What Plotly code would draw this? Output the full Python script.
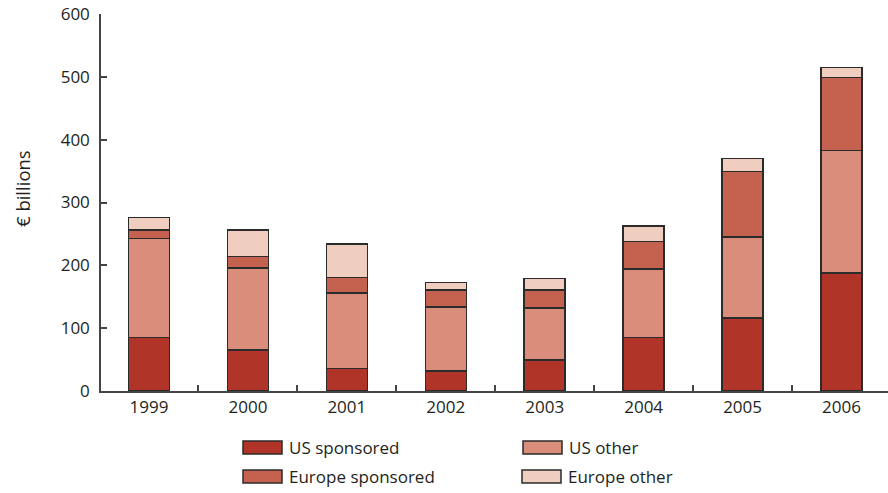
import plotly.graph_objects as go

# Annual totals, € billions
years = ["1999", "2000", "2001", "2002", "2003", "2004", "2005", "2006"]
us_sponsored = [85, 65, 36, 32, 49, 85, 116, 188]
us_other = [158, 131, 120, 102, 83, 109, 129, 195]
europe_sponsored = [13, 18, 25, 27, 29, 44, 104, 116]
europe_other = [20, 42, 53, 12, 18, 25, 21, 16]

series = [
    ("US sponsored", us_sponsored, "#B03428"),
    ("US other", us_other, "#D98D7A"),
    ("Europe sponsored", europe_sponsored, "#C5624F"),
    ("Europe other", europe_other, "#EFCDBF"),
]

W, H = 888, 493
L, R, T, B = 101, 0, 14, 102
PW, PH = W - L - R, H - T - B
TXT = "#231f20"
FONT = "Open Sans"

fig = go.Figure()
for name, vals, col in series:
    fig.add_trace(go.Bar(
        x=years, y=vals, name=name,
        marker=dict(color=col, line=dict(color="#2b2b2b", width=1.5)),
        showlegend=False,
    ))


def px(x):
    return (x - L) / PW


def py(y):
    return (H - B - y) / PH


# Legend drawn as boxes + labels in two columns
legend_pos = [
    ("US sponsored", "#B03428", 243, 441),
    ("US other", "#D98D7A", 523, 441),
    ("Europe sponsored", "#C5624F", 243, 470),
    ("Europe other", "#EFCDBF", 522, 470),
]
shapes = []
annotations = []
for name, col, x0, y0 in legend_pos:
    shapes.append(dict(
        type="rect", xref="paper", yref="paper",
        x0=px(x0), x1=px(x0 + 39), y0=py(y0 + 13), y1=py(y0),
        fillcolor=col, line=dict(color="#2b2b2b", width=1.5),
    ))
    annotations.append(dict(
        xref="paper", yref="paper", x=px(x0 + 44), y=py(y0 + 6.5),
        text=name, showarrow=False, xanchor="left", yanchor="middle",
        font=dict(family=FONT, size=17, color=TXT),
    ))

annotations.append(dict(
    xref="paper", yref="paper", x=px(22), y=py(189),
    text="€ billions", textangle=-90, showarrow=False,
    xanchor="center", yanchor="middle",
    font=dict(family=FONT, size=18.5, color=TXT),
))

fig.update_layout(
    width=W, height=H,
    margin=dict(l=L, r=R, t=T, b=B, pad=0),
    barmode="stack", bargap=0.585,
    plot_bgcolor="white", paper_bgcolor="white",
    font=dict(family=FONT, size=17, color=TXT),
    shapes=shapes, annotations=annotations,
    xaxis=dict(
        type="category", range=[-0.485, 7.47],
        showline=True, linecolor="#444444", linewidth=1.5,
        ticks="inside", ticklen=6, tickcolor="#444444", tickwidth=1.5,
        tickson="boundaries", showgrid=False, zeroline=False,
        tickfont=dict(family=FONT, size=17, color=TXT),
    ),
    yaxis=dict(
        range=[0, 600], tickvals=[0, 100, 200, 300, 400, 500, 600],
        showline=True, linecolor="#444444", linewidth=1.5,
        ticks="inside", ticklen=6, tickcolor="#444444", tickwidth=1.5,
        showgrid=False, zeroline=False, ticklabelstandoff=6,
        tickfont=dict(family=FONT, size=17, color=TXT),
    ),
)

fig.write_html("out.html")
